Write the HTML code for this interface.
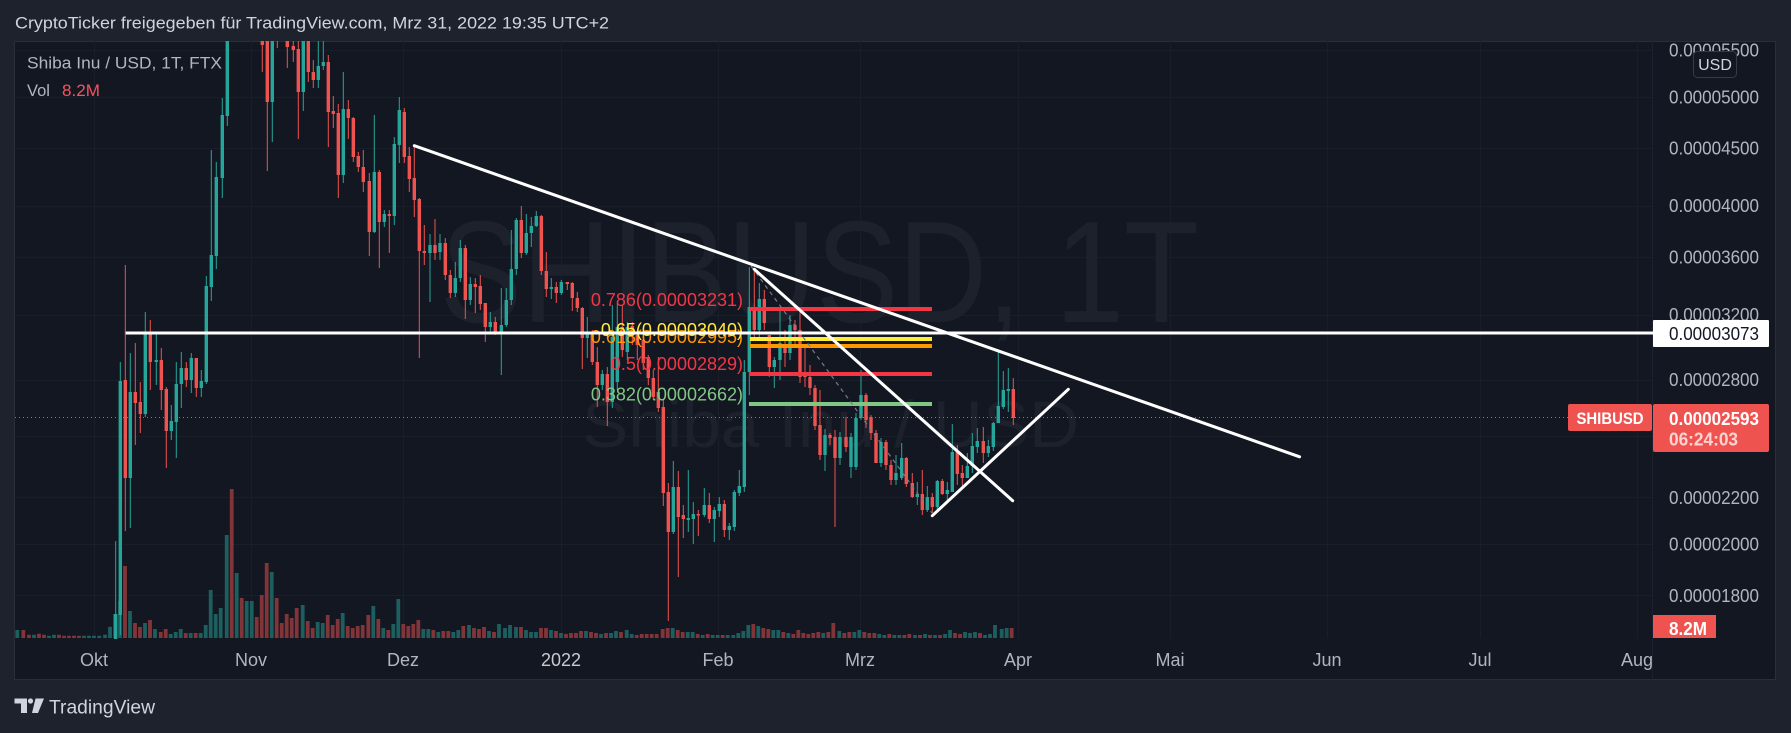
<!DOCTYPE html>
<html><head><meta charset="utf-8"><style>
html,body{margin:0;padding:0;background:#1e222d;}
svg{display:block;}
text{font-family:"Liberation Sans",sans-serif;}
</style></head><body>
<svg width="1791" height="733" viewBox="0 0 1791 733" xmlns="http://www.w3.org/2000/svg">
<defs>
<clipPath id="pane"><rect x="15" y="41" width="1637" height="598"/></clipPath>
</defs>
<rect x="0" y="0" width="1791" height="733" fill="#1e222d"/>
<rect x="14.5" y="41.5" width="1761" height="638" fill="#131722" stroke="#2a2e39" stroke-width="1"/>
<!-- header -->
<text x="15" y="28.5" font-size="16.5" fill="#d1d4dc" textLength="594" lengthAdjust="spacingAndGlyphs">CryptoTicker freigegeben für TradingView.com, Mrz 31, 2022 19:35 UTC+2</text>
<!-- grid -->
<g stroke="#1a1e29" stroke-width="1">
<path d="M15 50.5H1652M15 97.5H1652M15 148.5H1652M15 206.5H1652M15 257.5H1652M15 315.5H1652M15 380.5H1652M15 436.5H1652M15 497.5H1652M15 544.5H1652M15 595.5H1652"/>
<path d="M94.5 41V638M251.5 41V638M403.5 41V638M561.5 41V638M718.5 41V638M860.5 41V638M1018.5 41V638M1170.5 41V638M1327.5 41V638M1480.5 41V638M1637.5 41V638"/>
</g>
<line x1="1652.5" y1="41" x2="1652.5" y2="680" stroke="#1c2030" stroke-width="1"/>
<!-- watermark -->
<text x="440" y="322" font-size="145" fill="#1d212c" textLength="759" lengthAdjust="spacingAndGlyphs">SHIBUSD, 1T</text>
<text x="582" y="447" font-size="66" fill="#1d212c" textLength="497" lengthAdjust="spacingAndGlyphs">Shiba Inu / USD</text>
<g clip-path="url(#pane)">
<!-- volume -->
<path fill="none" stroke="#1d5e5e" stroke-width="3.8" d="M17.3 638V630M34 638V634.7M49 638V635.7M54 638V634.7M84 638V635.7M89 638V635.7M94 638V635.7M99.3 638V635.7M105 638V634.7M110 638V626.7M115 638V614M120 638V601M130 638V611M145 638V623M155 638V629M170.7 638V634M175.7 638V632M180.7 638V629M190.7 638V633M200.7 638V633M205.7 638V625M210.7 638V590M215.7 638V614M220.7 638V608M226.7 638V535M236.7 638V573M246.7 638V601M251.7 638V601M271.7 638V572M302.7 638V605M317.7 638V622M322.7 638V623M342.7 638V613M373.3 638V606M383.3 638V628M393.3 638V624M398.3 638V599M423.3 638V629M428.3 638V629M438.3 638V632M453.3 638V632M458.3 638V630M469 638V625M489 638V631M499 638V624M505 638V628M510 638V625M516 638V627M526 638V630M531 638V632M536 638V632M551 638V630M561 638V633M586 638V631M601 638V634M611 638V633M616 638V631M626.7 638V630M631.7 638V634M672.7 638V628M687.7 638V632M692.7 638V632M702.7 638V635M712.7 638V635M717.7 638V635M727.7 638V635M733.3 638V635M738.3 638V633M743.3 638V631M748.3 638V625M758.3 638V626M773.3 638V630M778.3 638V630M788.3 638V633M823.3 638V633M839.3 638V631M854.3 638V632M859.3 638V630M879.3 638V634M884.3 638V635M894.3 638V635M899.3 638V635M915 638V635M925 638V634M935 638V635M945 638V634M950 638V630M965 638V632M970 638V633M975 638V632M985 638V635M990 638V634M995 638V625M1001.7 638V629M1006.7 638V628"/>
<path fill="none" stroke="#813539" stroke-width="3.8" d="M23.3 638V630M29 638V634.7M39 638V633.7M44 638V634.7M59 638V634.7M64 638V635.7M69 638V635.7M74 638V635.7M79 638V635.7M125 638V566M135 638V623M140 638V627M150 638V620M160.7 638V632M165.7 638V629M185.7 638V633M195.7 638V633M231.7 638V489M241.7 638V598M256.7 638V617M261.7 638V595M266.7 638V563M276.7 638V598M281.7 638V623M286.7 638V614M291.7 638V618M296.7 638V608M307.7 638V621M312.7 638V628M327.7 638V615M332.7 638V625M337.7 638V619M347.7 638V626M352.7 638V628M357.7 638V626M362.7 638V625M368.3 638V615M378.3 638V619M388.3 638V630M403.3 638V624M408.3 638V626M413.3 638V624M418.3 638V620M433.3 638V630M443.3 638V631M448.3 638V631M463.3 638V626M474 638V628M479 638V629M484 638V627M494 638V632M521 638V627M541 638V628M546 638V628M556 638V631M566 638V634M571 638V633M576 638V633M581 638V631M591 638V632M596 638V633M606 638V633M621 638V632M636.7 638V635M641.7 638V634M646.7 638V634M651.7 638V634M656.7 638V634M662.7 638V629M667.7 638V628M677.7 638V630M682.7 638V632M697.7 638V634M707.7 638V634M722.7 638V635M753.3 638V624M763.3 638V628M768.3 638V629M783.3 638V632M793.3 638V634M798.3 638V630M803.3 638V633M808.3 638V634M813.3 638V633M818.3 638V632M828.3 638V632M833.3 638V623M844.3 638V633M849.3 638V632M864.3 638V632M869.3 638V633M874.3 638V633M889.3 638V634M904.3 638V635M909.3 638V634M920 638V635M930 638V635M940 638V635M955 638V633M960 638V634M980 638V633M1011.7 638V628"/>
<!-- candles green -->
<path fill="none" stroke="#26a69a" stroke-width="1" d="M115.7 541V640M120.3 362V635M130.3 353V528M145.3 312V417M156.3 334V385M171.3 405V440M176.3 362V458M181.3 352V408M191.3 353V393M201.3 370V397M206.3 276V384M211.3 150V301M216.3 162V269M222.3 98V198M227.3 0V126M272.3 0V142M303.3 0V111M318.3 30V88M323.3 30V70M343.3 72V183M374.3 115V233M384.3 210V227M394.3 137V225M399.3 97V163M430 234V302M440 234V260M455.3 262V297M460.3 240V282M470.3 277V305M490.3 312V333M501.3 288V375M506.3 288V327M511.3 230V305M516.3 218V275M526.3 214V255M531.3 217V247M536.3 211V227M551.3 278V299M561.3 280V295M587.3 317V358M602.3 370V390M612.3 305V408M617.3 303V390M627.3 322V360M673.3 461V534M688.3 470V532M693.3 502V544M704.3 488V517M714.3 507V542M719.3 497V517M729.3 523V540M734.3 490V531M739.3 470V496M744.3 360V492M749.3 267V395M759.3 283V337M774.3 357V388M780 309V380M790 315V360M825 429V471M840 432V465M851 433V478M856 413V470M861 370V420M881 438V467M896 455V485M901.7 443V480M917.3 482V505M927.3 486V512M937.3 480V509M947.3 482V503M952.3 424V492M967.3 453V478M972.3 433V473M977.3 428V453M988.3 440V457M993.3 422V451M998.3 352V423M1003.3 371V409M1008.3 368V412"/>
<path fill="none" stroke="#26a69a" stroke-width="3.4" d="M115.7 614V640M120.3 381V615M130.3 392V478M145.3 334V414M156.3 360V362M171.3 421V431M176.3 384V422M181.3 368V384M191.3 358V380M201.3 381V388M206.3 286V382M211.3 255V287M216.3 177V256M222.3 115V178M227.3 20V116M272.3 20V102M303.3 20V92M318.3 66V80M323.3 62V66M343.3 109V175M374.3 172V232M384.3 214V222M394.3 144V216M399.3 110V145M430 245V253M440 243V252M455.3 278V293M460.3 248V278M470.3 284V300M490.3 322V327M501.3 325V333M506.3 300V325M511.3 269V300M516.3 220V269M526.3 233V253M531.3 226V233M536.3 216V226M551.3 287V289M561.3 282V293M587.3 333V338M602.3 374V385M612.3 337V402M617.3 327V382M627.3 327V352M673.3 487V532M688.3 518V520M693.3 514V519M704.3 505V515M714.3 510V519M719.3 504V511M729.3 526V530M734.3 492V527M739.3 486V493M744.3 372V487M749.3 307V372M759.3 299V330M774.3 360V367M780 343V360M790 325V353M825 435V455M840 437V458M851 437V467M856 418V467M861 395V418M881 442V463M896 473V480M901.7 458V478M917.3 494V497M927.3 497V510M937.3 481V507M947.3 490V494M952.3 452V492M967.3 466V478M972.3 446V466M977.3 441V447M988.3 446V453M993.3 423V447M998.3 406V423M1003.3 390V407M1008.3 389V391"/>
<!-- candles red -->
<path fill="none" stroke="#ef5350" stroke-width="1" d="M125.3 265V531M135.3 343V445M140.3 382V433M150.3 320V390M161.3 348V410M166.3 387V468M186.3 362V387M196.3 358V397M262.3 0V72M267.3 20V171M277.3 20V48M287.3 20V68M293.3 30V62M298.3 30V139M308.3 20V82M313.3 60V88M328.3 55V147M333.3 96V128M338.3 104V198M348.3 100V139M353.3 117V162M358.3 152V172M363.3 150V192M369.3 173V256M379.3 170V268M389.3 210V253M404.3 108V163M409.3 147V192M414.3 146V217M419.3 198V358M424.3 225V265M435 219V260M445.3 238V280M450.3 270V298M465.3 245V319M475.3 278V313M480.3 275V310M485.3 303V342M495.3 317V335M521.3 206V258M541.3 215V275M546.3 252V297M556.3 282V303M567.3 282V290M572.3 282V311M577.3 292V312M582.3 307V369M592.3 330V365M597.3 347V407M607.3 367V426M622.3 305V357M632.3 322V345M637.3 330V360M643.3 336V370M648.3 355V385M653.3 370V400M658.3 357V412M663.3 400V506M668.3 483V621M678.3 471V577M683.3 505V538M698.3 510V536M709.3 493V523M724.3 500V537M754.3 270V340M764.3 290V330M769.3 335V377M785 330V367M795 320V345M800 311V383M805 345V387M810 365V395M815 385V430M820 390V460M830 433V445M835 430V527M846 417V452M866 393V428M871 415V440M876 430V463M886 440V470M891 460V485M906.3 457V487M912.3 473V498M922.3 470V515M932.3 493V513M942.3 479V495M957.3 445V485M962.3 465V489M983.3 427V463M1013.3 378V425"/>
<path fill="none" stroke="#ef5350" stroke-width="3.4" d="M125.3 380V478M135.3 392V403M140.3 402V414M150.3 334V362M161.3 360V390M166.3 389V431M186.3 368V380M196.3 358V388M262.3 20V45M267.3 25V102M277.3 22V30M287.3 30V47M293.3 46V50M298.3 49V92M308.3 25V72M313.3 72V80M328.3 62V112M333.3 111V114M338.3 113V175M348.3 109V118M353.3 118V157M358.3 156V167M363.3 167V182M369.3 181V232M379.3 172V222M389.3 214V216M404.3 112V157M409.3 156V179M414.3 178V200M419.3 199V251M424.3 251V253M435 245V253M445.3 243V275M450.3 275V293M465.3 248V300M475.3 284V287M480.3 286V304M485.3 303V327M495.3 322V333M521.3 220V253M541.3 216V271M546.3 271V289M556.3 287V293M567.3 282V284M572.3 283V298M577.3 298V308M582.3 308V338M592.3 333V362M597.3 362V385M607.3 374V402M622.3 327V350M632.3 326V333M637.3 335V345M643.3 340V363M648.3 357V378M653.3 378V397M658.3 392V408M663.3 407V493M668.3 492V532M678.3 487V517M683.3 515V519M698.3 514V515.5M709.3 505V519M724.3 504V530M754.3 308V330M764.3 299V323M769.3 335V367M785 345V353M795 325V330M800 330V377M805 373V377M810 377V388M815 388V426M820 425V455M830 435V438M835 437V458M846 437V447M866 395V420M871 417V433M876 433V463M886 442V465M891 465V480M906.3 458V484M912.3 483V497M922.3 494V510M932.3 497V507M942.3 481V494M957.3 452V474M962.3 473V478M983.3 441V453M1013.3 389V418"/>
</g>
<!-- dotted last price line -->
<line x1="15" y1="417.5" x2="1568" y2="417.5" stroke="#ef5350" stroke-width="1" stroke-dasharray="1 3"/>
<!-- fib -->
<g stroke-width="4">
<line x1="750" y1="309" x2="932" y2="309" stroke="#f23645"/>
<line x1="750" y1="339" x2="932" y2="339" stroke="#ffeb3b"/>
<line x1="750" y1="346" x2="932" y2="346" stroke="#ff9800"/>
<line x1="750" y1="374" x2="932" y2="374" stroke="#f23645"/>
<line x1="749" y1="404" x2="932" y2="404" stroke="#81c784"/>
</g>
<g font-size="18" text-anchor="end">
<text x="743" y="306" fill="#f23645">0.786(0.00003231)</text>
<text x="743" y="343" fill="#ff9800">0.618(0.00002995)</text>
<text x="743" y="336" fill="#ffeb3b">0.65(0.00003040)</text>
<text x="743" y="370" fill="#f23645">0.5(0.00002829)</text>
<text x="743" y="400.5" fill="#81c784">0.382(0.00002662)</text>
</g>
<line x1="751" y1="266" x2="932" y2="513" stroke="#787b86" stroke-width="1.2" stroke-dasharray="4 4"/>
<!-- trendlines -->
<g stroke="#ffffff" stroke-width="3" stroke-linecap="round">
<line x1="414.3" y1="145.7" x2="1299.6" y2="456.8"/>
<line x1="754.3" y1="269.3" x2="1012.7" y2="500.7"/>
<line x1="932.3" y1="515.7" x2="1068.3" y2="389.3"/>
</g>
<line x1="125.7" y1="333" x2="1653" y2="333" stroke="#ffffff" stroke-width="3"/>
<!-- price axis labels -->
<g font-size="18" fill="#b2b5be">
<text x="1669" y="56.5" textLength="90" lengthAdjust="spacingAndGlyphs">0.00005500</text>
<text x="1669" y="103.5" textLength="90" lengthAdjust="spacingAndGlyphs">0.00005000</text>
<text x="1669" y="154.5" textLength="90" lengthAdjust="spacingAndGlyphs">0.00004500</text>
<text x="1669" y="212" textLength="90" lengthAdjust="spacingAndGlyphs">0.00004000</text>
<text x="1669" y="263.5" textLength="90" lengthAdjust="spacingAndGlyphs">0.00003600</text>
<text x="1669" y="321" textLength="90" lengthAdjust="spacingAndGlyphs">0.00003200</text>
<text x="1669" y="386" textLength="90" lengthAdjust="spacingAndGlyphs">0.00002800</text>
<text x="1669" y="504" textLength="90" lengthAdjust="spacingAndGlyphs">0.00002200</text>
<text x="1669" y="550.5" textLength="90" lengthAdjust="spacingAndGlyphs">0.00002000</text>
<text x="1669" y="602" textLength="90" lengthAdjust="spacingAndGlyphs">0.00001800</text>
</g>
<!-- USD badge -->
<rect x="1693.5" y="51.5" width="43" height="26" rx="4" fill="#131722" stroke="#363a45" stroke-width="1"/>
<text x="1715" y="70" font-size="16" fill="#d1d4dc" text-anchor="middle">USD</text>
<!-- horizontal line label -->
<rect x="1653" y="320" width="116" height="27" fill="#ffffff" rx="1"/>
<text x="1669" y="340" font-size="18" fill="#131722" textLength="90" lengthAdjust="spacingAndGlyphs">0.00003073</text>
<!-- last price labels -->
<rect x="1568" y="404" width="84" height="27" fill="#ef5350" rx="2"/>
<text x="1610" y="424" font-size="17" font-weight="bold" fill="#ffffff" text-anchor="middle" textLength="67" lengthAdjust="spacingAndGlyphs">SHIBUSD</text>
<rect x="1653" y="404" width="116" height="48" fill="#ef5350" rx="2"/>
<text x="1669" y="425" font-size="18" font-weight="bold" fill="#ffffff" textLength="90" lengthAdjust="spacingAndGlyphs">0.00002593</text>
<text x="1669" y="445.5" font-size="18" font-weight="bold" fill="#fbd4d3" textLength="69" lengthAdjust="spacingAndGlyphs">06:24:03</text>
<rect x="1653" y="615" width="63" height="23" fill="#ef5350"/>
<text x="1669" y="635" font-size="18" font-weight="bold" fill="#ffffff" textLength="38" lengthAdjust="spacingAndGlyphs">8.2M</text>
<!-- time axis -->
<g font-size="18" fill="#b2b5be" text-anchor="middle">
<text x="94" y="666">Okt</text>
<text x="251" y="666">Nov</text>
<text x="403" y="666">Dez</text>
<text x="561" y="666" fill="#c8cad0">2022</text>
<text x="718" y="666">Feb</text>
<text x="860" y="666">Mrz</text>
<text x="1018" y="666">Apr</text>
<text x="1170" y="666">Mai</text>
<text x="1327" y="666">Jun</text>
<text x="1480" y="666">Jul</text>
<text x="1637" y="666">Aug</text>
</g>
<!-- legend -->
<text x="27" y="68.5" font-size="16.5" fill="#b2b5be" textLength="195" lengthAdjust="spacingAndGlyphs">Shiba Inu / USD, 1T, FTX</text>
<text x="27" y="96" font-size="16.5" fill="#b2b5be">Vol</text>
<text x="62" y="96" font-size="16.5" fill="#f7525f" textLength="38" lengthAdjust="spacingAndGlyphs">8.2M</text>
<!-- TradingView logo -->
<g fill="#d1d4dc">
<path d="M14.5 698.5H27V713H21V703.5H14.5Z"/>
<circle cx="30.5" cy="701" r="2.6"/>
<path d="M35.5 698.5H44L38 713H32Z"/>
</g>
<text x="49" y="713.5" font-size="19" fill="#d1d4dc" textLength="106" lengthAdjust="spacingAndGlyphs">TradingView</text>
</svg>
</body></html>
